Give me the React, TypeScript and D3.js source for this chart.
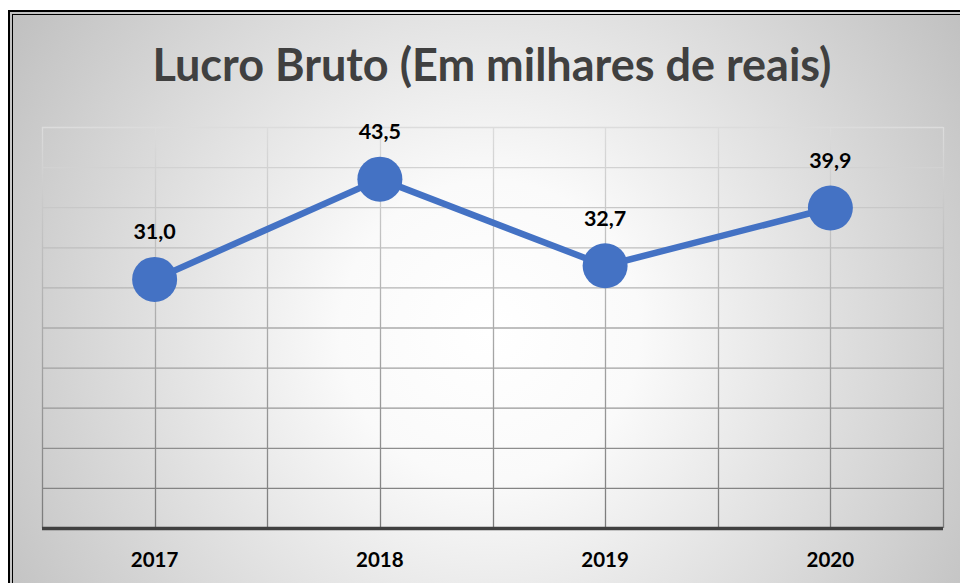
import React from "react";
import * as d3 from "d3";

const categories = ["2017", "2018", "2019", "2020"];
const values = [31.0, 43.5, 32.7, 39.9];
const valueLabels = ["31,0", "43,5", "32,7", "39,9"];
const yTicks = [0, 5, 10, 15, 20, 25, 30, 35, 40, 45, 50];
const title = "Lucro Bruto (Em milhares de reais)";

const W = 960;
const H = 583;
const plotLeft = 42;
const plotRight = 943;
const plotTop = 127;
const plotBottom = 528;
const font = "Lato, 'Open Sans', sans-serif";
const blue = "#4472C4";

export default function App() {
  const x = d3.scaleBand<string>().domain(categories).range([plotLeft, plotRight]).padding(0);
  const bw = x.bandwidth();
  const cx = (c: string) => (x(c) as number) + bw / 2;
  const y = d3.scaleLinear().domain([0, 50]).range([plotBottom, plotTop]);

  const pts: [number, number][] = categories.map((c, i) => [cx(c), y(values[i])]);
  const line = d3.line<[number, number]>().x((d) => d[0]).y((d) => d[1]);

  const vLines: number[] = [];
  categories.forEach((c) => {
    vLines.push(x(c) as number);
    vLines.push(cx(c));
  });
  vLines.push(plotRight);

  return (
    <svg
      width={W}
      height={H}
      style={{ position: "absolute", left: 0, top: 0, display: "block" }}
    >
      <defs>
        <radialGradient id="bg" gradientUnits="userSpaceOnUse" cx={490} cy={330} r={600}>
          <stop offset="0" stopColor="#ffffff" />
          <stop offset="0.25" stopColor="#fafafa" />
          <stop offset="1" stopColor="#bcbcbc" />
        </radialGradient>
        <linearGradient id="grid" gradientUnits="userSpaceOnUse" x1={0} y1={plotTop} x2={0} y2={plotBottom}>
          <stop offset="0" stopColor="#dcdcdc" />
          <stop offset="1" stopColor="#7a7a7a" />
        </linearGradient>
      </defs>
      <rect x={0} y={0} width={W} height={H} fill="#ffffff" />
      <rect x={10} y={12} width={W + 20} height={H + 20} fill="url(#bg)" />
      <rect x={9} y={11} width={W + 20} height={H + 20} fill="none" stroke="#000" strokeWidth={2} />
      <rect x={12.5} y={14.5} width={W + 20} height={H + 20} fill="none" stroke="#000" strokeWidth={1} />

      <text
        x={492}
        y={81}
        textAnchor="middle"
        fontFamily={font}
        fontWeight={700}
        fontSize={45}
        fill="#404040"
      >
        {title}
      </text>

      <g>
        {yTicks.slice(1).map((t) => (
          <line
            key={"h" + t}
            x1={plotLeft}
            x2={plotRight}
            y1={y(t) + 0.5}
            y2={y(t) + 0.5}
            stroke="url(#grid)"
            strokeWidth={1.3}
          />
        ))}
        {vLines.map((v, i) => (
          <line
            key={"v" + i}
            x1={Math.round(v) + 0.5}
            x2={Math.round(v) + 0.5}
            y1={plotTop}
            y2={plotBottom}
            stroke="url(#grid)"
            strokeWidth={1.3}
          />
        ))}
        <line
          x1={plotLeft}
          x2={plotRight}
          y1={y(0) + 0.5}
          y2={y(0) + 0.5}
          stroke="#404040"
          strokeWidth={3.5}
        />
      </g>

      <path d={line(pts) || ""} fill="none" stroke={blue} strokeWidth={6.5} strokeLinejoin="round" />
      {pts.map((p, i) => (
        <circle key={"c" + i} cx={p[0]} cy={p[1]} r={22.5} fill={blue} />
      ))}
      {pts.map((p, i) => (
        <text
          key={"l" + i}
          x={p[0]}
          y={p[1] - 40}
          textAnchor="middle"
          fontFamily={font}
          fontWeight={700}
          fontSize={21.5}
          fill="#000"
        >
          {valueLabels[i]}
        </text>
      ))}
      {categories.map((c) => (
        <text
          key={"x" + c}
          x={cx(c)}
          y={567}
          textAnchor="middle"
          fontFamily={font}
          fontWeight={700}
          fontSize={20.5}
          fill="#000"
        >
          {c}
        </text>
      ))}
    </svg>
  );
}
